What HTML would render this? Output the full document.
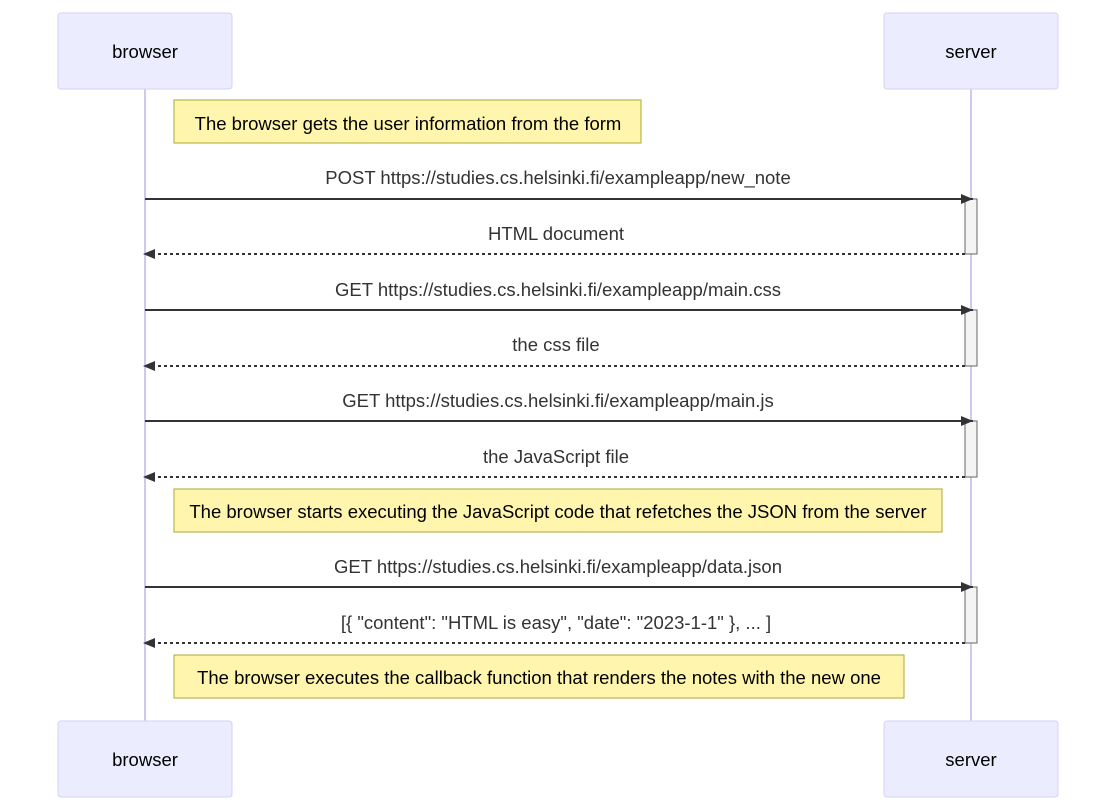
<!DOCTYPE html>
<html><head><meta charset="utf-8"><style>
html,body{margin:0;padding:0;background:#fff;}
svg{display:block;font-family:"Liberation Sans",Arial,sans-serif;}
</style></head><body>
<svg width="1116" height="811" viewBox="0 0 1116 811" xmlns="http://www.w3.org/2000/svg">
<defs>
<marker id="ah" viewBox="0 0 12 10" refX="12" refY="5" markerWidth="12" markerHeight="10" markerUnits="userSpaceOnUse" orient="auto">
<path d="M0,0 L12,5 L0,10 z" fill="#333"/></marker>
</defs>
<line x1="145" y1="89" x2="145" y2="721" stroke="#cfc8f0" stroke-width="2"/>
<line x1="971" y1="89" x2="971" y2="721" stroke="#cfc8f0" stroke-width="2"/>
<g fill="#ececff" stroke="#d6d0f5" stroke-width="1">
<rect x="58" y="13" width="174" height="76" rx="3"/>
<rect x="884" y="13" width="174" height="76" rx="3"/>
<rect x="58" y="721" width="174" height="76" rx="3"/>
<rect x="884" y="721" width="174" height="76" rx="3"/>
</g>
<g font-size="18.5" fill="#000" text-anchor="middle">
<text x="145" y="58">browser</text><text x="971" y="58">server</text>
<text x="145" y="766">browser</text><text x="971" y="766">server</text>
</g>
<g fill="#fff5ad" stroke="#aaaa33" stroke-width="1">
<rect x="174" y="100" width="467" height="43"/>
<rect x="174" y="489" width="768" height="43"/>
<rect x="174" y="655" width="730" height="43"/>
</g>
<g font-size="18.5" fill="#000" text-anchor="middle">
<text x="408" y="130">The browser gets the user information from the form</text>
<text x="558" y="518">The browser starts executing the JavaScript code that refetches the JSON from the server</text>
<text x="539" y="684">The browser executes the callback function that renders the notes with the new one</text>
</g>
<g fill="#f4f4f4" stroke="#666" stroke-width="1">
<rect x="965" y="199" width="12" height="55"/>
<rect x="965" y="310" width="12" height="56"/>
<rect x="965" y="421" width="12" height="56"/>
<rect x="965" y="587" width="12" height="56"/>
</g>
<g stroke="#333" stroke-width="2">
<line x1="145" y1="199" x2="973" y2="199" marker-end="url(#ah)"/>
<line x1="145" y1="310" x2="973" y2="310" marker-end="url(#ah)"/>
<line x1="145" y1="421" x2="973" y2="421" marker-end="url(#ah)"/>
<line x1="145" y1="587" x2="973" y2="587" marker-end="url(#ah)"/>
<g stroke-dasharray="3,3">
<line x1="965" y1="254" x2="143" y2="254" marker-end="url(#ah)"/>
<line x1="965" y1="366" x2="143" y2="366" marker-end="url(#ah)"/>
<line x1="965" y1="477" x2="143" y2="477" marker-end="url(#ah)"/>
<line x1="965" y1="643" x2="143" y2="643" marker-end="url(#ah)"/>
</g>
</g>
<g font-size="18.5" fill="#333" text-anchor="middle">
<text x="558" y="184">POST https://studies.cs.helsinki.fi/exampleapp/new_note</text>
<text x="556" y="240">HTML document</text>
<text x="558" y="296">GET https://studies.cs.helsinki.fi/exampleapp/main.css</text>
<text x="556" y="351">the css file</text>
<text x="558" y="407">GET https://studies.cs.helsinki.fi/exampleapp/main.js</text>
<text x="556" y="463">the JavaScript file</text>
<text x="558" y="573">GET https://studies.cs.helsinki.fi/exampleapp/data.json</text>
<text x="556" y="629">[{ "content": "HTML is easy", "date": "2023-1-1" }, ... ]</text>
</g>
</svg>
</body></html>
